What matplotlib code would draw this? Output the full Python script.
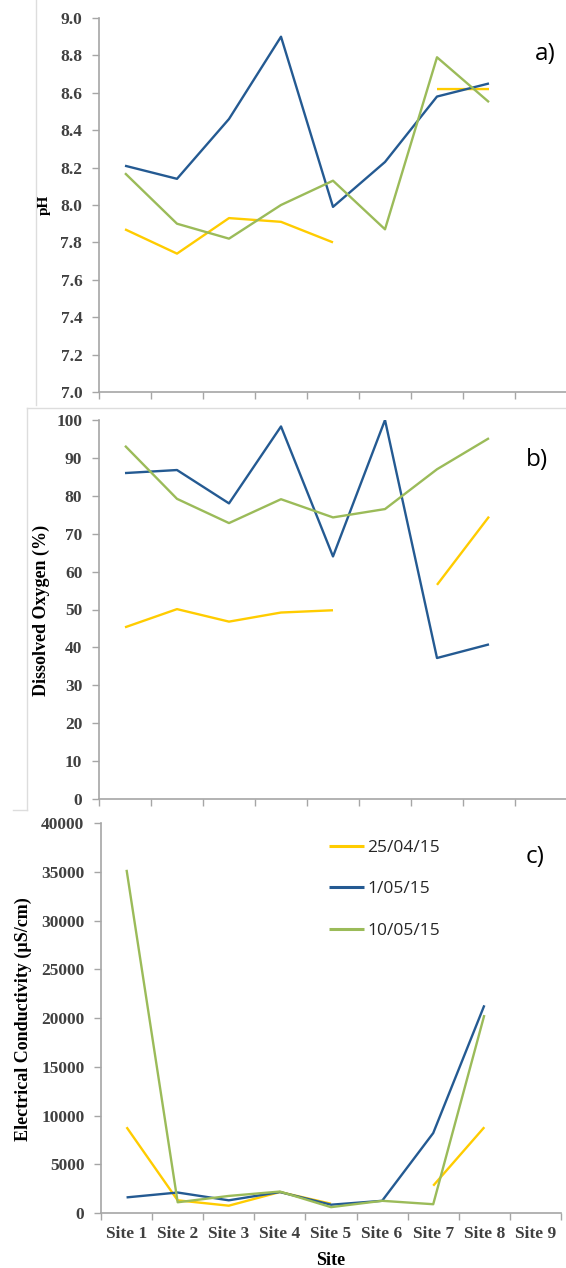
import numpy as np
import matplotlib
matplotlib.use("Agg")
import matplotlib.pyplot as plt
from matplotlib.lines import Line2D

sites = ["Site 1", "Site 2", "Site 3", "Site 4", "Site 5", "Site 6", "Site 7", "Site 8", "Site 9"]
dates = ["25/04/15", "1/05/15", "10/05/15"]
nan = np.nan

ph_2504 = [7.87, 7.74, 7.93, 7.91, 7.80, nan, 8.62, 8.62, nan]
ph_0105 = [8.21, 8.14, 8.46, 8.90, 7.99, 8.23, 8.58, 8.65, nan]
ph_1005 = [8.17, 7.90, 7.82, 8.00, 8.13, 7.87, 8.79, 8.55, nan]

do_2504 = [45.3, 50.1, 46.8, 49.2, 49.8, nan, 56.5, 74.5, nan]
do_0105 = [86.0, 86.8, 78.0, 98.3, 64.0, 100.0, 37.2, 40.8, nan]
do_1005 = [93.2, 79.2, 72.8, 79.1, 74.3, 76.5, 87.0, 95.2, nan]

ec_2504 = [8800, 1300, 750, 2150, 950, nan, 2800, 8800, nan]
ec_0105 = [1600, 2100, 1300, 2150, 850, 1250, 8200, 21300, nan]
ec_1005 = [35200, 1100, 1750, 2200, 600, 1250, 900, 20300, nan]

ph_ticks = [7.0, 7.2, 7.4, 7.6, 7.8, 8.0, 8.2, 8.4, 8.6, 8.8, 9.0]
do_ticks = [0, 10, 20, 30, 40, 50, 60, 70, 80, 90, 100]
ec_ticks = [0, 5000, 10000, 15000, 20000, 25000, 30000, 35000, 40000]

colors = ["#FFCC00", "#245A92", "#9BBB59"]

W, H = 566, 1268
fig = plt.figure(figsize=(W / 100, H / 100), dpi=100)

def box(l, t, r, b):
    return [l / W, 1 - b / H, (r - l) / W, (b - t) / H]

serif = "Liberation Serif"
tick_color = "#404040"
spine_color = "#A6A6A6"

# faint frames of pasted panels
fig.add_artist(Line2D([36 / W, 36 / W], [1 - 0 / H, 1 - 405 / H], color="#DDDDDD", lw=1))
fig.add_artist(Line2D([27 / W, 27 / W], [1 - 408 / H, 1 - 810 / H], color="#DDDDDD", lw=1))
fig.add_artist(Line2D([27 / W, 1.0], [1 - 408 / H, 1 - 408 / H], color="#DDDDDD", lw=1))
fig.add_artist(Line2D([13 / W, 27 / W], [1 - 810 / H, 1 - 810 / H], color="#DDDDDD", lw=1))

ax_a = fig.add_axes(box(99, 18, 567, 392))
ax_b = fig.add_axes(box(99, 420, 567, 799))
ax_c = fig.add_axes(box(101, 823, 561, 1213))

x = np.arange(len(sites))

def style(ax, yticks, ylim, fmt, show_x):
    ax.set_xlim(-0.5, len(sites) - 0.5)
    ax.set_ylim(*ylim)
    ax.set_yticks(yticks)
    ax.set_yticklabels([fmt(v) for v in yticks], fontfamily=serif, fontweight="bold",
                       fontsize=12.5, color=tick_color)
    ax.set_xticks(np.arange(len(sites) + 1) - 0.5)
    ax.set_xticklabels([])
    ax.set_xticks(x, minor=True)
    if show_x:
        ax.set_xticklabels(sites, minor=True, fontfamily=serif, fontweight="bold",
                           fontsize=12.5, color=tick_color)
    ax.tick_params(axis="x", which="minor", length=0, pad=9)
    ax.tick_params(axis="both", which="major", direction="out", length=5, width=1,
                   color=spine_color)
    ax.tick_params(axis="y", pad=7)
    for s in ["top", "right"]:
        ax.spines[s].set_visible(False)
    for s in ["left", "bottom"]:
        ax.spines[s].set_color(spine_color)
        ax.spines[s].set_linewidth(1.2)
    ax.patch.set_alpha(0)

for ax, series in [(ax_a, [ph_2504, ph_0105, ph_1005]),
                   (ax_b, [do_2504, do_0105, do_1005]),
                   (ax_c, [ec_2504, ec_0105, ec_1005])]:
    for vals, c, lab in zip(series, colors, dates):
        ax.plot(x, vals, color=c, lw=1.7, label=lab, solid_capstyle="butt")

style(ax_a, ph_ticks, (7.0, 9.0), lambda v: f"{v:.1f}", False)
style(ax_b, do_ticks, (0, 100), lambda v: f"{v:d}", False)
style(ax_c, ec_ticks, (0, 40000), lambda v: f"{v:d}", True)

# y labels
fig.text(44 / W, 1 - 205 / H, "pH", rotation=90, ha="center", va="center",
         fontfamily=serif, fontweight="bold", fontsize=11, color="#000000")
fig.text(41 / W, 1 - 610 / H, "Dissolved Oxygen (%)", rotation=90, ha="center", va="center",
         fontfamily=serif, fontweight="bold", fontsize=13, color="#000000")
fig.text(23 / W, 1 - 1019 / H, "Electrical Conductivity (\u00b5S/cm)", rotation=90,
         ha="center", va="center", fontfamily=serif, fontweight="bold", fontsize=13,
         color="#000000")
fig.text(331 / W, 1 - 1252 / H, "Site", ha="center", va="top",
         fontfamily=serif, fontweight="bold", fontsize=13, color="#000000")

# panel letters
for lab, (px, py) in zip(["a)", "b)", "c)"], [(545, 54), (537, 460), (535, 857)]):
    fig.text(px / W, 1 - py / H, lab, ha="center", va="center",
             fontfamily="Open Sans", fontsize=17.5, color="#000000")

leg = ax_c.legend(loc="upper left", bbox_to_anchor=(329 / W, 1 - 840 / H),
                  bbox_transform=fig.transFigure, frameon=False, borderpad=0,
                  borderaxespad=0, handlelength=2.0, handletextpad=0.2,
                  labelspacing=1.45, prop={"family": "Open Sans", "size": 12.5})
for t in leg.get_texts():
    t.set_color("#262626")
for h in leg.get_lines():
    h.set_linewidth(2.2)

fig.savefig("out.png", dpi=100)
